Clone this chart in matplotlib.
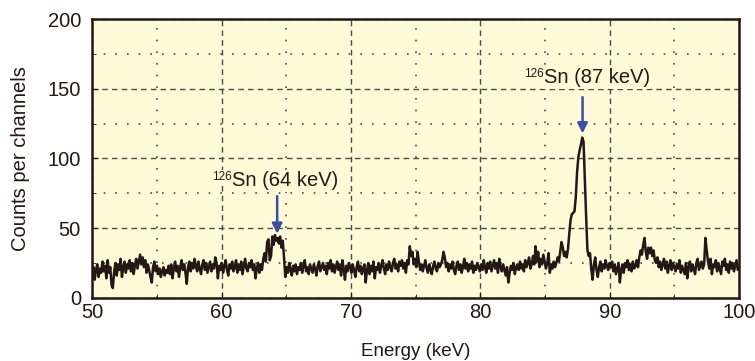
import numpy as np
import matplotlib
matplotlib.use('Agg')
import matplotlib.pyplot as plt
from matplotlib.ticker import MultipleLocator

# counts per channel, one row per keV (10 channels each), 50 -> 100 keV
counts = [
    16, 22, 13, 20, 24, 15, 21, 18, 26, 19,   # 50
    23, 14, 27, 18, 22, 9, 7, 19, 25, 16,     # 51
    24, 20, 28, 15, 22, 26, 18, 24, 21, 27,   # 52
    19, 25, 17, 23, 28, 21, 26, 31, 24, 29,   # 53
    22, 27, 18, 24, 20, 15, 11, 22, 26, 19,   # 54
    23, 17, 21, 15, 19, 22, 16, 20, 18, 23,   # 55
    17, 24, 14, 21, 26, 19, 23, 15, 22, 27,   # 56
    20, 24, 18, 10, 22, 26, 19, 25, 21, 28,   # 57
    23, 19, 26, 21, 17, 24, 27, 20, 25, 18,   # 58
    22, 26, 19, 24, 21, 29, 25, 14, 23, 20,   # 59
    25, 18, 23, 27, 20, 16, 24, 21, 26, 19,   # 60
    22, 27, 18, 24, 20, 26, 17, 23, 28, 21,   # 61
    19, 25, 22, 27, 20, 24, 14, 21, 25, 18,   # 62
    24, 20, 28, 32, 26, 40, 42, 27, 30, 44,   # 63
    38, 45, 41, 43, 39, 44, 36, 41, 29, 15,   # 64
    22, 18, 25, 20, 16, 23, 19, 24, 17, 22,   # 65
    20, 25, 18, 23, 27, 19, 22, 17, 24, 21,   # 66
    18, 24, 21, 16, 23, 26, 19, 22, 25, 20,   # 67
    23, 17, 25, 21, 27, 19, 24, 18, 22, 26,   # 68
    20, 24, 16, 27, 21, 13, 23, 19, 25, 22,   # 69
    18, 24, 20, 15, 22, 26, 19, 23, 17, 21,   # 70
    24, 11, 20, 25, 17, 23, 19, 26, 14, 22,   # 71
    20, 25, 18, 23, 27, 21, 17, 24, 20, 26,   # 72
    22, 19, 25, 28, 21, 24, 19, 26, 23, 27,   # 73
    21, 25, 18, 27, 24, 37, 30, 33, 24, 28,   # 74
    22, 33, 26, 20, 24, 19, 23, 27, 21, 18,   # 75
    24, 20, 17, 23, 26, 21, 19, 25, 22, 24,   # 76
    27, 33, 29, 22, 25, 19, 24, 21, 26, 20,   # 77
    17, 23, 26, 20, 24, 18, 22, 28, 21, 25,   # 78
    19, 24, 21, 26, 18, 23, 20, 25, 22, 19,   # 79
    24, 20, 27, 22, 18, 25, 21, 26, 19, 23,   # 80
    27, 21, 25, 18, 28, 22, 19, 24, 20, 16,   # 81
    22, 11, 18, 23, 20, 25, 17, 22, 24, 20,   # 82
    26, 21, 24, 19, 27, 22, 25, 29, 21, 24,   # 83
    30, 24, 37, 26, 33, 22, 28, 24, 31, 26,   # 84
    21, 25, 32, 18, 24, 21, 26, 22, 25, 29,   # 85
    26, 33, 40, 36, 30, 33, 29, 35, 46, 56,   # 86
    60, 61, 62, 72, 90, 101, 106, 110, 115, 112,  # 87
    85, 58, 34, 30, 32, 20, 13, 24, 29, 20,   # 88
    15, 22, 26, 19, 24, 21, 27, 23, 20, 25,   # 89
    22, 26, 19, 24, 17, 21, 25, 11, 20, 24,   # 90
    18, 25, 22, 27, 20, 24, 19, 26, 21, 23,   # 91
    27, 22, 29, 34, 31, 38, 43, 33, 28, 36,   # 92
    32, 36, 30, 34, 27, 25, 29, 22, 26, 20,   # 93
    24, 28, 21, 26, 18, 23, 27, 20, 25, 22,   # 94
    19, 24, 21, 27, 18, 23, 20, 17, 25, 14,   # 95
    22, 26, 19, 24, 21, 17, 25, 28, 20, 23,   # 96
    26, 21, 24, 43, 34, 26, 21, 28, 17, 24,   # 97
    22, 27, 19, 25, 21, 17, 26, 23, 28, 20,   # 98
    24, 18, 26, 21, 25, 19, 23, 27, 20, 22,   # 99
]
energy = np.linspace(50, 100, len(counts))

peak_labels = ['Sn (64 keV)', 'Sn (87 keV)']
peak_iso = '126'
peak_x = [64.3, 87.9]
peak_tip = [46, 118]
label_pos = [(64.9, 84), (89.0, 158)]

plt.rcParams['font.family'] = ['Liberation Sans', 'DejaVu Sans']

bg = '#fffad8'
ink = '#231815'
fig = plt.figure(figsize=(7.55, 3.61), dpi=100)
ax = fig.add_axes([0.122, 0.175, 0.857, 0.772])
ax.set_facecolor(bg)

ax.plot(energy, counts, color=ink, lw=1.8, zorder=3)

ax.set_xlim(50, 100)
ax.set_ylim(0, 200)
ax.xaxis.set_major_locator(MultipleLocator(10))
ax.xaxis.set_minor_locator(MultipleLocator(5))
ax.yaxis.set_major_locator(MultipleLocator(50))
ax.yaxis.set_minor_locator(MultipleLocator(25))
ax.grid(which='major', color='#4a4a4a', lw=1.0, linestyle=(0, (4, 3)))
ax.grid(which='minor', color='#4a4a4a', lw=1.2, linestyle=(0, (1, 6)))
ax.set_axisbelow(True)
ax.tick_params(which='both', direction='in', labelsize=14.5, colors=ink)
ax.tick_params(which='major', length=4)
ax.tick_params(which='minor', length=3)
ax.tick_params(axis='x', pad=4)
ax.tick_params(axis='y', pad=8)
for s in ax.spines.values():
    s.set_linewidth(1.8)
    s.set_color(ink)

ax.set_xlabel('Energy (keV)', fontsize=13.5, color=ink, labelpad=15)
ax.set_ylabel('Counts per channels', fontsize=14.5, color=ink, labelpad=13)

for px, tip, top in zip(peak_x, peak_tip, [73, 144]):
    ax.annotate('', xy=(px, tip), xytext=(px, top),
                arrowprops=dict(arrowstyle='-|>', color='#3b4ea3', lw=1.8, mutation_scale=15,
                                shrinkA=0, shrinkB=0), zorder=4)

# main label text plus a small superscript mass number on its left
for (lx, ly), lab in zip(label_pos, peak_labels):
    t = ax.text(lx, ly, lab, fontsize=14.5, ha='center', va='center', color=ink,
                bbox=dict(facecolor=bg, edgecolor='none', pad=1), zorder=5)
    fig.canvas.draw()
    bb = t.get_window_extent()
    x0, y0 = ax.transData.inverted().transform((bb.x0, bb.y1))
    ax.text(x0, y0, peak_iso, fontsize=8.5, ha='right', va='top', color=ink,
            bbox=dict(facecolor=bg, edgecolor='none', pad=1), zorder=5)

fig.savefig('out.png', dpi=100)
